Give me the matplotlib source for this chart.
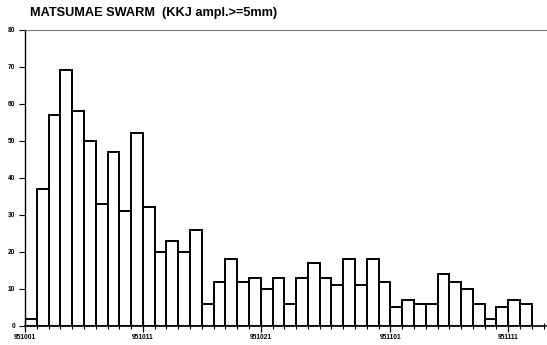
import matplotlib
matplotlib.use("Agg")
import matplotlib.pyplot as plt
import numpy as np

# daily counts from 951001 onward (KKJ ampl. >= 5mm)
counts = [2, 37, 57, 69, 58, 50, 33, 47, 31, 52, 32, 20, 23, 20, 26, 6,
          12, 18, 12, 13, 10, 13, 6, 13, 17, 13, 11, 18, 11, 18, 12, 5,
          7, 6, 6, 14, 12, 10, 6, 2, 5, 7, 6]
date_pos = [0, 10, 20, 31, 41]
date_labels = ["951001", "951011", "951021", "951101", "951111"]
yticks = [0, 10, 20, 30, 40, 50, 60, 70, 80]

plt.rcParams['font.family'] = ['Liberation Sans', 'DejaVu Sans']

fig = plt.figure(figsize=(5.47, 3.45), dpi=100)
ax = fig.add_axes([25 / 547, 1 - 326 / 345, 521 / 547, (326 - 29.5) / 345])

days = np.arange(len(counts))
ax.bar(days, counts, width=1.0, align='edge', color='white',
       edgecolor='black', linewidth=1.4)

ax.set_xlim(0, 44.2)
ax.set_ylim(0, 80)

ax.spines['right'].set_visible(False)
ax.spines['top'].set_color('#777777')
ax.spines['top'].set_linewidth(0.8)
ax.spines['left'].set_linewidth(1.0)
ax.spines['bottom'].set_linewidth(1.2)

ax.set_yticks(yticks)
ax.set_yticklabels([str(v) for v in yticks], fontsize=4.8, fontweight='bold')
ax.tick_params(axis='y', length=4, width=0.8, pad=3)

ax.set_xticks(date_pos)
ax.set_xticklabels(date_labels, fontsize=4.8, fontweight='bold')
ax.set_xticks(np.arange(0, 45), minor=True)
ax.tick_params(axis='x', which='major', direction='inout', length=8, width=0.9, pad=1.5)
ax.tick_params(axis='x', which='minor', direction='inout', length=4, width=0.8)

fig.text(30 / 547, 1 - 13 / 345, "MATSUMAE SWARM  (KKJ ampl.>=5mm)",
         fontsize=9.2, fontweight='bold', va='center', ha='left')

fig.savefig("out.png", dpi=100)
